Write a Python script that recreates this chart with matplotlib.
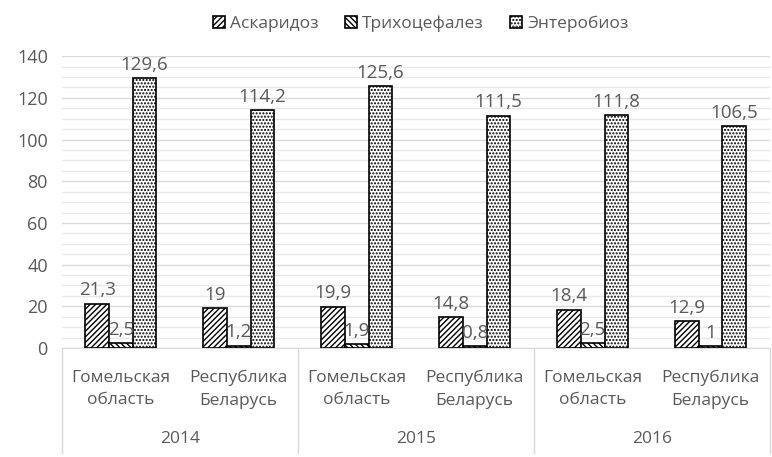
import numpy as np
import matplotlib.pyplot as plt
from matplotlib.ticker import MultipleLocator

plt.rcParams['font.family'] = ['Open Sans', 'DejaVu Sans']
plt.rcParams['hatch.linewidth'] = 1.0

years = ['2014', '2015', '2016']
regions = ['Гомельская\nобласть', 'Республика\nБеларусь']
series = ['Аскаридоз', 'Трихоцефалез', 'Энтеробиоз']
ascaris = [21.3, 19, 19.9, 14.8, 18.4, 12.9]
trichuris = [2.5, 1.2, 1.9, 0.8, 2.5, 1]
enterobius = [129.6, 114.2, 125.6, 111.5, 111.8, 106.5]
hatches = ['//////', '\\\\\\\\\\\\', '.....']

grey = '#595959'
fig = plt.figure(figsize=(7.72, 4.57), dpi=100)
ax = fig.add_axes([0.080, 0.2385, 0.917, 0.6385])

x = np.arange(len(ascaris))
w = 0.2
for k, (vals, h, name) in enumerate(zip([ascaris, trichuris, enterobius], hatches, series)):
    pos = x + (k - 1) * w
    bars = ax.bar(pos, vals, w, color='white', edgecolor='black', hatch=h,
                  linewidth=1.2, label=name, zorder=3)
    for b, v in zip(bars, vals):
        ax.text(b.get_x() + b.get_width() / 2, v + 2, str(v).replace('.', ','),
                ha='center', va='bottom', fontsize=13.5, color=grey, zorder=4)

ax.set_xlim(-0.5, len(ascaris) - 0.5)
ax.set_ylim(0, 140)
ax.yaxis.set_major_locator(MultipleLocator(20))
ax.yaxis.set_minor_locator(MultipleLocator(5))
ax.grid(axis='y', which='major', color='#d9d9d9', linewidth=1, zorder=0)
ax.grid(axis='y', which='minor', color='#e8e8e8', linewidth=1, zorder=0)
ax.tick_params(axis='y', which='both', length=0, labelsize=13, labelcolor=grey, pad=10)
for s in ['top', 'right', 'left']:
    ax.spines[s].set_visible(False)
ax.spines['bottom'].set_color('#d9d9d9')

# two-level category axis
ax.set_xticks([])
for i, r in enumerate(regions * len(years)):
    ax.text(i, -0.075, r, transform=ax.get_xaxis_transform(), ha='center', va='top',
            fontsize=12.5, color=grey, linespacing=1.55)
for j, yr in enumerate(years):
    ax.text(2 * j + 0.5, -0.285, yr, transform=ax.get_xaxis_transform(), ha='center',
            va='top', fontsize=12.5, color=grey)
for b in [-0.5, 1.5, 3.5, 5.5]:
    ax.plot([b, b], [0, -0.36], transform=ax.get_xaxis_transform(), color='#d9d9d9',
            linewidth=1, clip_on=False)

fig.legend(loc='upper center', bbox_to_anchor=(0.545, 1.0), ncol=3, frameon=False,
           fontsize=12.5, handlelength=0.7, handleheight=0.7, columnspacing=1.5,
           handletextpad=0.3, labelcolor=grey)

fig.savefig('out.png', dpi=100)
